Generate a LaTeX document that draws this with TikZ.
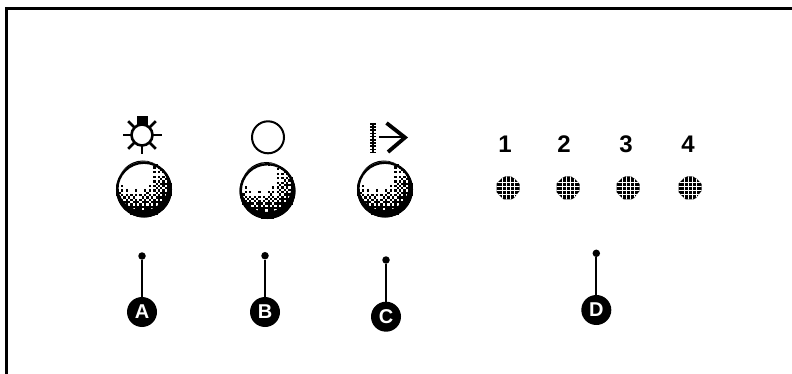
\documentclass[tikz,border=0pt]{standalone}
\usepackage{fontspec}
\setmainfont{Liberation Sans}
\definecolor{ink}{HTML}{000000}
\tikzset{
  x=1pt,y=-1pt,
  dotnode/.style={circle,fill=ink,inner sep=0pt,minimum size=7.5pt},
  badge/.style={circle,fill=ink,text=white,inner sep=0pt,minimum size=30pt,font=\fontsize{20}{20}\selectfont\bfseries},
  leader/.style={draw=ink,line width=2.3pt},
  raystroke/.style={draw=ink,line width=2.8pt},
  digit/.style={inner sep=0pt,anchor=base,font=\fontsize{24}{24}\selectfont\bfseries,text=ink}
}
\pgfmathsetmacro{\cellsz}{2.3}
\newcommand{\ballat}[2]{%
  \begin{scope}[shift={(#1,#2)}]
    \foreach \i in {-12,...,11}{
      \foreach \j in {-12,...,11}{
        \pgfmathsetmacro{\px}{(\i+0.5)*\cellsz}
        \pgfmathsetmacro{\py}{(\j+0.5)*\cellsz}
        \pgfmathsetmacro{\rr}{sqrt(\px*\px+\py*\py)}
        \pgfmathsetmacro{\dd}{sqrt((\px+7)*(\px+7)+(\py+15)*(\py+15))}
        \pgfmathsetmacro{\vv}{(\dd-13)/26}
        \pgfmathtruncatemacro{\ii}{mod(\i+48,4)}
        \pgfmathtruncatemacro{\jj}{mod(\j+48,4)}
        \pgfmathsetmacro{\th}{{{0.03,0.53,0.16,0.66},{0.78,0.28,0.91,0.41},{0.22,0.72,0.09,0.59},{0.97,0.47,0.84,0.34}}[\ii][\jj]}
        \pgfmathtruncatemacro{\on}{(\rr<27.5 && \vv>\th) ? 1 : 0}
        \ifnum\on=1
          \fill[ink] (\px-1.15,\py-1.15) rectangle ++(2.3,2.3);
        \fi
      }
    }
    \draw[ink,line width=2.4pt] (0,0) circle (26.8);
    \fill[ink,even odd rule] (0,0) circle (28) (-1.2,-4) circle (25);
  \end{scope}
}
\newcommand{\padgrid}[2]{%
  \begin{scope}
    \clip (#1-11.5,#2-4.5) -- (#1-6,#2-10) -- (#1-3,#2-11.5) -- (#1+3,#2-11.5) -- (#1+7,#2-9) -- (#1+11.5,#2-4) -- (#1+11.5,#2+3) -- (#1+6,#2+10) -- (#1+3,#2+11.5) -- (#1-4,#2+11.5) -- (#1-8,#2+8) -- (#1-11.5,#2+4) -- cycle;
    \fill[ink] (#1-12,#2-12) rectangle (#1+12,#2+12);
    \foreach \k in {-6,-2,2,6}{
      \draw[white,line width=0.5pt] (#1-12,#2+\k) -- (#1+12,#2+\k);
      \draw[white,line width=0.5pt] (#1+\k,#2-12) -- (#1+\k,#2+12);
    }
  \end{scope}
}
\begin{document}
\begin{tikzpicture}
\useasboundingbox (0,0) rectangle (792,374);
\draw[ink,line width=2.6pt] (6.2,374) -- (6.2,8.3) -- (792,8.3);
% balls
\ballat{144}{189.5}
\ballat{267.5}{191}
\ballat{385}{189.5}
% lamp
\draw[ink,line width=2.6pt] (142,135) circle (10.5);
\fill[ink] (137,116) rectangle (148,125);
\foreach \a in {0,45,135,180,225,270,315}{
  \draw[raystroke] (142,135) ++(-\a:10.5) -- ++(-\a:9);
}
% circle symbol
\draw[ink,line width=2pt] (268,137.3) circle (16);
% arrow symbol
\draw[ink,line width=2.6pt] (373,123) -- (373,153);
\draw[ink,line width=5.5pt,dash pattern=on 1.6pt off 1.6pt] (373,123) -- (373,153);
\draw[ink,line width=2.2pt] (379,137) -- (404,137);
\draw[ink,line width=3.8pt] (386.5,123) -- (405,137.5) -- (388,152);
% digits
\node[digit] (d1) at (505,153) {1};
\node[digit] (d2) at (564,153) {2};
\node[digit] (d3) at (626,153) {3};
\node[digit] (d4) at (688,153) {4};
\padgrid{508}{188}
\padgrid{568}{188}
\padgrid{628}{188}
\padgrid{690}{188}
% leaders
\node[dotnode] (ta) at (142,256) {};
\node[badge] (ba) at (142,312) {A};
\draw[leader] (ta) -- (ba);
\node[dotnode] (tb) at (265,255.7) {};
\node[badge] (bb) at (265,312) {B};
\draw[leader] (tb) -- (bb);
\node[dotnode] (tc) at (386,260) {};
\node[badge] (bc) at (386,316.7) {C};
\draw[leader] (tc) -- (bc);
\node[dotnode] (td) at (596.3,253.3) {};
\node[badge] (bd) at (596.3,310) {D};
\draw[leader] (td) -- (bd);
\end{tikzpicture}
\end{document}
